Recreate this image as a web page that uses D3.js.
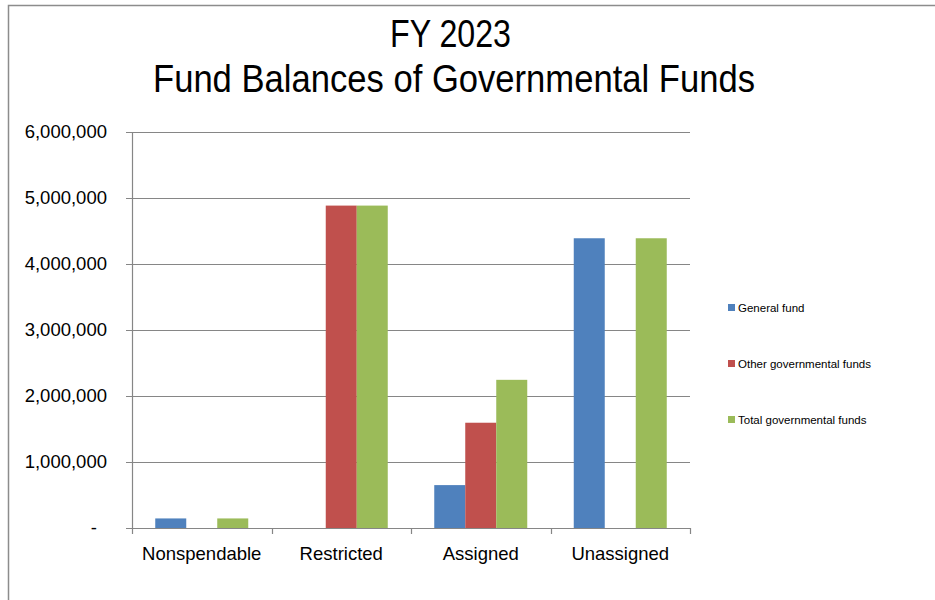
<!DOCTYPE html>
<html>
<head>
<meta charset="utf-8">
<script src="https://cdn.jsdelivr.net/npm/d3@7"></script>
<style>
  html, body { margin: 0; padding: 0; background: #fff; }
  svg { display: block; }
</style>
</head>
<body>
<svg id="chart" width="935" height="600"></svg>
<script>
const categories = ["Nonspendable", "Restricted", "Assigned", "Unassigned"];
const seriesNames = ["General fund", "Other governmental funds", "Total governmental funds"];
const generalFund = [145000, 0, 650000, 4390000];
const otherFunds = [0, 4885000, 1595000, 0];
const totalFunds = [145000, 4885000, 2245000, 4390000];
const yTicks = [0, 1000000, 2000000, 3000000, 4000000, 5000000, 6000000];
const titleLines = ["FY 2023", "Fund Balances of Governmental Funds"];
const colors = ["#4F81BD", "#C0504D", "#9BBB59"];

const seriesValues = [generalFund, otherFunds, totalFunds];
const svg = d3.select("#chart");
const W = 935, H = 600;
const plot = { left: 132, right: 690, top: 132, bottom: 528 };
const fontMain = "'Liberation Sans', Arial, sans-serif";

// outer chart border
svg.append("rect").attr("x", 8.5).attr("y", 5.5).attr("width", W).attr("height", H)
  .attr("fill", "#fff").attr("stroke", "#8c8c8c").attr("stroke-width", 1.5);

// title (condensed to mimic the narrow original face)
svg.append("text").attr("x", 390).attr("y", 47)
  .attr("font-family", fontMain).attr("font-size", 38).attr("fill", "#000")
  .attr("textLength", 121).attr("lengthAdjust", "spacingAndGlyphs")
  .text(titleLines[0]);
svg.append("text").attr("x", 153).attr("y", 92)
  .attr("font-family", fontMain).attr("font-size", 38).attr("fill", "#000")
  .attr("textLength", 602).attr("lengthAdjust", "spacingAndGlyphs")
  .text(titleLines[1]);

const x = d3.scaleBand().domain(categories).range([plot.left, plot.right]).padding(0);
const xInner = d3.scaleBand().domain(seriesNames).range([0, x.bandwidth()])
  .paddingInner(0).paddingOuter(0.75);
const y = d3.scaleLinear().domain([0, 6000000]).range([plot.bottom, plot.top]);

// gridlines
svg.append("g").selectAll("line").data(yTicks.filter(d => d > 0)).join("line")
  .attr("x1", plot.left - 6).attr("x2", plot.right)
  .attr("y1", d => Math.round(y(d)) + 0.5).attr("y2", d => Math.round(y(d)) + 0.5)
  .attr("stroke", "#868686").attr("stroke-width", 1.2);

// y labels
const fmt = d3.format(",");
svg.append("g").selectAll("text").data(yTicks).join("text")
  .attr("x", d => d === 0 ? 97 : 107)
  .attr("y", d => y(d)).attr("dy", "0.35em").attr("text-anchor", "end")
  .attr("font-family", fontMain).attr("font-size", 18.5).attr("fill", "#000")
  .text(d => d === 0 ? "-" : fmt(d));

// bars
const groups = svg.append("g").selectAll("g").data(categories).join("g")
  .attr("transform", c => `translate(${x(c)},0)`);
groups.selectAll("rect")
  .data((c, i) => seriesNames.map((s, j) => ({ s, j, v: seriesValues[j][i] })))
  .join("rect")
  .attr("x", d => xInner(d.s)).attr("width", xInner.bandwidth())
  .attr("y", d => y(d.v)).attr("height", d => y(0) - y(d.v))
  .attr("fill", d => colors[d.j]);

// y axis line
svg.append("line").attr("x1", plot.left + 0.5).attr("x2", plot.left + 0.5)
  .attr("y1", plot.top).attr("y2", plot.bottom)
  .attr("stroke", "#868686").attr("stroke-width", 1.2);
// x axis line
svg.append("line").attr("x1", plot.left - 6).attr("x2", plot.right)
  .attr("y1", plot.bottom + 0.5).attr("y2", plot.bottom + 0.5)
  .attr("stroke", "#868686").attr("stroke-width", 1.2);
// x tick marks at category boundaries
const bounds = categories.map(c => x(c)).concat([plot.right]);
svg.append("g").selectAll("line").data(bounds).join("line")
  .attr("x1", d => Math.round(d) + 0.5).attr("x2", d => Math.round(d) + 0.5)
  .attr("y1", plot.bottom).attr("y2", plot.bottom + 6)
  .attr("stroke", "#868686").attr("stroke-width", 1.2);

// x labels
svg.append("g").selectAll("text").data(categories).join("text")
  .attr("x", c => x(c) + x.bandwidth() / 2).attr("y", 560)
  .attr("text-anchor", "middle")
  .attr("font-family", fontMain).attr("font-size", 18.5).attr("fill", "#000")
  .text(c => c);

// legend
const legendY = [308, 364, 420];
const lg = svg.append("g").selectAll("g").data(seriesNames).join("g")
  .attr("transform", (d, i) => `translate(728,${legendY[i]})`);
lg.append("rect").attr("x", 0).attr("y", -4).attr("width", 7).attr("height", 7)
  .attr("fill", (d, i) => colors[i]);
lg.append("text").attr("x", 10).attr("y", 0).attr("dy", "0.35em")
  .attr("font-family", fontMain).attr("font-size", 11.5).attr("fill", "#000")
  .text(d => d);
</script>
</body>
</html>
